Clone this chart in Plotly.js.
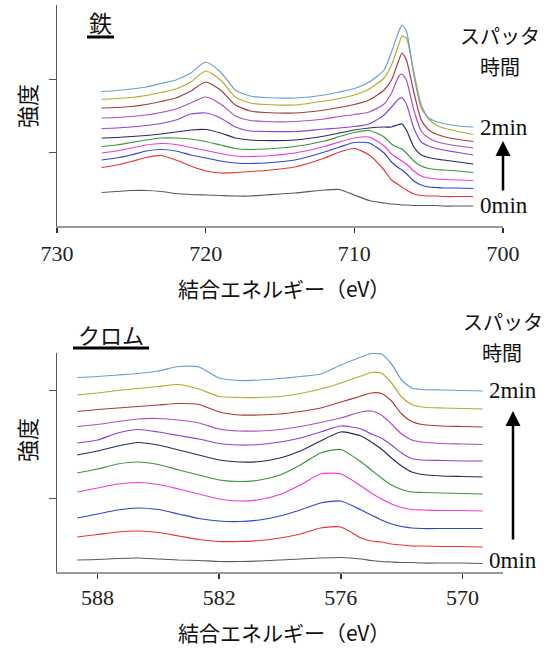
<!DOCTYPE html>
<html><head><meta charset="utf-8">
<script src="https://cdn.plot.ly/plotly-3.0.1.min.js"></script>
<style>html,body{margin:0;padding:0;background:#fff;}#chart{width:557px;height:650px;}</style>
</head><body><div id="chart"></div>
<script>
// ---- Fe 2p spectra (binding energy, eV) : intensity (a.u., stacked) ----
const feEnergy = [727,726,725,724,723,722,721,720,719,718,717,716,714,712,711,710,709,708,707.5,707,706.8,706.5,706,705.5,705,704.5,704,703,702];
const fe0  = [33.5,34.5,35.5,35.5,34.5,32.5,31.5,31,30.5,30,30,31,33,36,36.5,31,25.5,23,22,21.5,21,21,20.5,20.5,20.5,20.5,20,20,20];
const fe1  = [58.5,61,64.5,68.5,70.5,66,60,55,53,53.5,54.5,55.5,59,68,74,77.5,71,56,46,41,39,36,32,30.5,30,30,29.5,29.5,29.5];
const fe2  = [66,68,71,75,76.5,75,71,68,65,63,62.5,63,66,74,79,83.5,83,73,64,58,56,52.5,45,41,39,38.5,38,38,37.5];
const fe3  = [73,75,78,81,82.5,81.5,78.5,75.5,72.5,70,69.5,70,73,79.5,84,88,89,80,72,67,65,62,55,50,48,47,46.5,46,45.5];
const fe4  = [79.5,81,83.5,86,88,88,87,84.5,81,77.5,76.5,77,79.5,85,89.5,93.5,95.5,89,82,78,77,73,65,60,57.5,56.5,56,55,53.5];
const fe5  = [88,88.5,89.5,90.5,92,94,96,96.5,93,88,86,85.5,86,90,93,96,98,99,99,101.5,102,96,79,71,68.5,67,66,64,62];
const fe6  = [97.5,98,99,100.5,102.5,106,112,113,108,99,95,94.5,94.5,97,98,99.5,102,111,119,127,128,122,98,84,80,77.5,76,73.5,71];
const fe7  = [108,108.5,109.5,111,113.5,117,123,129,122,110,105.5,104.5,104.5,107,109.5,111.5,114,122,133,150,152,146,116,95,88,84.5,82.5,80,78];
const fe8  = [118,118.5,119.5,121.5,124.5,128,135,144,136,121,115,113.5,113,116,118.5,121.5,126,136,146,166,173,166,134,106,96,92,89.5,86.5,84.5];
const fe9  = [126.5,127.5,128.5,130.5,133.5,137,144,155,146,129,123,121.5,121,125,127.5,131,137,148,161,182,190,188,154,121,107,101,98,94.5,91.5];
const fe10 = [134.5,135.5,137,139,142.5,146,153,164,154,136,130,128.5,128,131,134,137.5,144,156,174,195,201,195,151,118,108,104.5,102.5,100,99];

// ---- Cr 2p spectra ----
const crEnergy = [589,588,587,586,585,584,583,582,581,580,579,578,577,576,575,574.5,574,573.5,573,572.5,572,571,570,569];
const cr0  = [12,12.5,13.5,14,13,12,11.5,10.5,10.5,11,12,13,14,14.5,13,11.5,10.5,10,9.5,9.5,9,9,9,8.5];
const cr1  = [35,37.5,40,41,39.5,36,32.5,30.5,30.5,31.5,34,38,44,45,34,31,30,28,27,26,26,25.5,25.5,25];
const cr2  = [54,58,62,64,62.5,58,53.5,51,50.5,52,56,62,69,71,62,57,52,48,45.5,44,43.5,43.5,43.5,43.5];
const cr3  = [80,84,88,89.5,87.5,83,78,73,71,72.5,77.5,87,98,98,86,79,73,68,64.5,62.5,62,61.5,61.5,61];
const cr4  = [99,103,108,110,107.5,102,97,92,90.5,92,97,107,119,122.5,110,102,94,87,82.5,80,79.5,79,78.5,78];
const cr5  = [117,121,126,129.5,127,122,117,112,110,110.5,114,121,131,140,136,130,123,114,106,100,97.5,96,95.5,95];
const cr6  = [129,132,139,142.5,140,136.5,133,128.5,127,127.5,130,134,140,146,143,138,134,127,119,113.5,112,111.5,111,111];
const cr7  = [145.5,147.5,150.5,153,153.5,152,149,143,141,141,142.5,145.5,149.5,154,160,161,157,148,138,132,130,128.5,128,127.5];
const cr8  = [160.5,162.5,164,165.5,167,168.5,167.5,160,157,157,158,160.5,164,170,176,179,178.5,171,158,150.5,147.5,146,145.5,145];
const cr9  = [177,179,181.5,183.5,185.5,187.5,183,175.5,174.5,174.5,175.5,178.5,183,189,196,199.5,199,189,175,167.5,165,164,163.5,163];
const cr10 = [194.5,195.5,197,198.5,201,205.5,205,194,191.5,192,193.5,195.5,198,207,215,218.5,218,208,192,184,182.5,182,181.5,181];

const sputterLabels = ['0 s','12 s','24 s','36 s','48 s','60 s','72 s','84 s','96 s','108 s','120 s'];
const lineColors = ['#5a5a5a','#ee3333','#3443d0','#f03ad8','#3a983a','#2a2a66','#8a45dc','#b04ec0','#a83c3c','#b4ac2c','#6a9ed2'];
const feTicks = [730,720,710,700];
const crTicks = [588,582,576,570];

const feSeries = [fe0,fe1,fe2,fe3,fe4,fe5,fe6,fe7,fe8,fe9,fe10];
const crSeries = [cr0,cr1,cr2,cr3,cr4,cr5,cr6,cr7,cr8,cr9,cr10];

const traces = [];
feSeries.forEach((ys,i)=>traces.push({x:feEnergy,y:ys,type:'scatter',mode:'lines',name:'Fe '+sputterLabels[i],
  line:{color:lineColors[i],width:1.2,shape:'spline',smoothing:0.6},xaxis:'x',yaxis:'y',hoverinfo:'x+y+name'}));
crSeries.forEach((ys,i)=>traces.push({x:crEnergy,y:ys,type:'scatter',mode:'lines',name:'Cr '+sputterLabels[i],
  line:{color:lineColors[i],width:1.2,shape:'spline',smoothing:0.6},xaxis:'x2',yaxis:'y2',hoverinfo:'x+y+name'}));

const W=557,H=650;
const px=v=>v/W, py=v=>1-v/H;
const jp = '"Noto Sans CJK JP", sans-serif';
const serif = '"Liberation Serif", "Noto Sans CJK JP", serif';

const xCommon = {ticks:'outside',ticklen:5,tickwidth:1.5,tickcolor:'#333',showline:true,linecolor:'#999',linewidth:1.5,
  showgrid:false,zeroline:false,tickfont:{family:serif,size:22,color:'#222'},fixedrange:true};
const yCommon = {ticks:'outside',ticklen:7,tickwidth:1,tickcolor:'#555',showline:true,linecolor:'#555',linewidth:1.5,
  showgrid:false,zeroline:false,showticklabels:false,fixedrange:true};

function txt(x,y,text,size,fam,extra){return Object.assign({xref:'paper',yref:'paper',x:px(x),y:py(y),text:text,showarrow:false,
  xanchor:'center',yanchor:'middle',font:{family:fam,size:size,color:'#111'}},extra||{});}
function arrow(x,yHead,yTail){return {xref:'paper',yref:'paper',x:px(x),y:py(yHead),ax:0,ay:yTail-yHead,text:'',showarrow:true,
  arrowhead:2,arrowsize:1.2,arrowwidth:2.5,arrowcolor:'#000'};}

const layout = {
  width:W,height:H,autosize:false,margin:{l:0,r:0,t:0,b:0},paper_bgcolor:'#fff',plot_bgcolor:'#fff',showlegend:false,
  xaxis:Object.assign({},xCommon,{domain:[px(57),px(503)],range:[730,700],tickvals:feTicks,anchor:'y',ticklabelstandoff:2}),
  yaxis:Object.assign({},yCommon,{domain:[py(226),py(5)],range:[0,221],tickvals:[74,147],anchor:'x'}),
  xaxis2:Object.assign({},xCommon,{domain:[px(57),px(503)],range:[590,568],tickvals:crTicks,anchor:'y2'}),
  yaxis2:Object.assign({},yCommon,{domain:[py(572),py(353)],range:[0,219],tickvals:[74,182],anchor:'x2'}),
  annotations:[
    txt(100,22,'鉄',23,jp),
    txt(111,334,'クロム',22,jp),
    txt(26,106,'強度',22,jp,{textangle:-90}),
    txt(26,440,'強度',22,jp,{textangle:-90}),
    txt(284,288,'結合エネルギー（eV）',21,jp),
    txt(284,632,'結合エネルギー（eV）',21,jp),
    txt(500,35,'スパッタ',20,jp),
    txt(500,66,'時間',20,jp),
    txt(503,321,'スパッタ',20,jp),
    txt(502,352,'時間',20,jp),
    txt(504,127,'2min',23,serif),
    txt(504,206,'0min',23,serif),
    txt(513,390,'2min',23,serif),
    txt(513,560,'0min',23,serif),
    arrow(503,141,192),
    arrow(513,411,541)
  ],
  shapes:[
    {type:'line',xref:'paper',yref:'paper',x0:px(87),x1:px(114),y0:py(37),y1:py(37),line:{color:'#000',width:3}},
    {type:'line',xref:'paper',yref:'paper',x0:px(73),x1:px(149),y0:py(348),y1:py(348),line:{color:'#000',width:3}}
  ]
};
Plotly.newPlot('chart',traces,layout,{displayModeBar:false,staticPlot:true});
</script></body></html>
